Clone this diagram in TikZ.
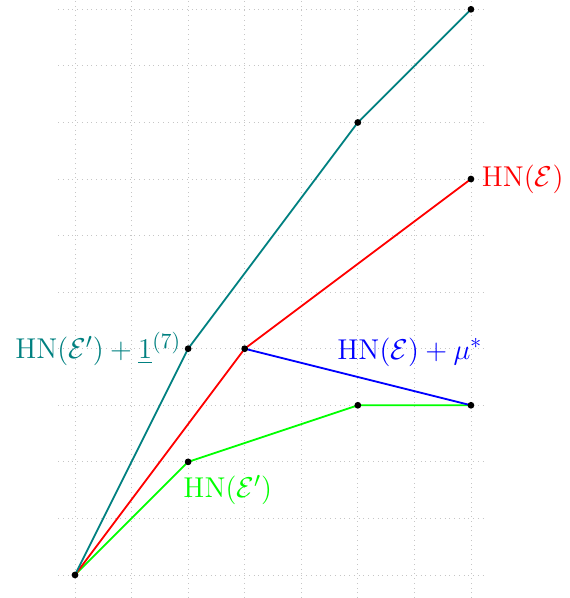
\documentclass[tikz,border=0pt]{standalone}
\usepackage{amsmath,amssymb}
\usepackage{xcolor}
\usepackage{tikz}
\newcommand{\cE}{\mathcal E}
\newcommand{\HN}{\mathrm{HN}}

\begin{document}
\begin{tikzpicture}[x=1cm,y=1cm,font=\fontsize{15}{18}\selectfont]
 \useasboundingbox (-1.326,-0.407) rectangle (8.75,10.165);
 \draw[gray!45,dotted] (-0.3,-0.407) grid (7.27,10.165);
 % vertices of the polygons
 \coordinate (o) at (0,0);
 \coordinate (g1) at (2,2);
 \coordinate (g2) at (5,3);
 \coordinate (g3) at (7,3);
 \coordinate (r1) at (3,4);
 \coordinate (r2) at (7,7);
 \coordinate (t1) at (2,4);
 \coordinate (t2) at (5,8);
 \coordinate (t3) at (7,10);
 \draw[line width=0.9pt,green] (o) -- (g1) -- (g2) -- (g3);
 \draw[line width=0.9pt,red] (o) -- (r1) -- (r2);
 \draw[line width=0.9pt,blue] (r1) -- (g3);
 \draw[line width=0.9pt,teal] (o) -- (t1) -- (t2) -- (t3);
 \foreach \p in {o,g1,g2,g3,r1,r2,t1,t2,t3}{\fill (\p) circle (1.7pt);}
 \node[red,right,xshift=2pt] (lr) at (r2) {$\HN(\cE)$};
 \node[teal,left] (lt) at (t1) {$\HN(\cE')+\underline{1}^{(7)}$};
 \node[blue] (lb) at (5.92,3.94) {$\HN(\cE)+\mu^*$};
 \node[green] (lg) at (2.7,1.5) {$\HN(\cE')$};
\end{tikzpicture}
\end{document}
